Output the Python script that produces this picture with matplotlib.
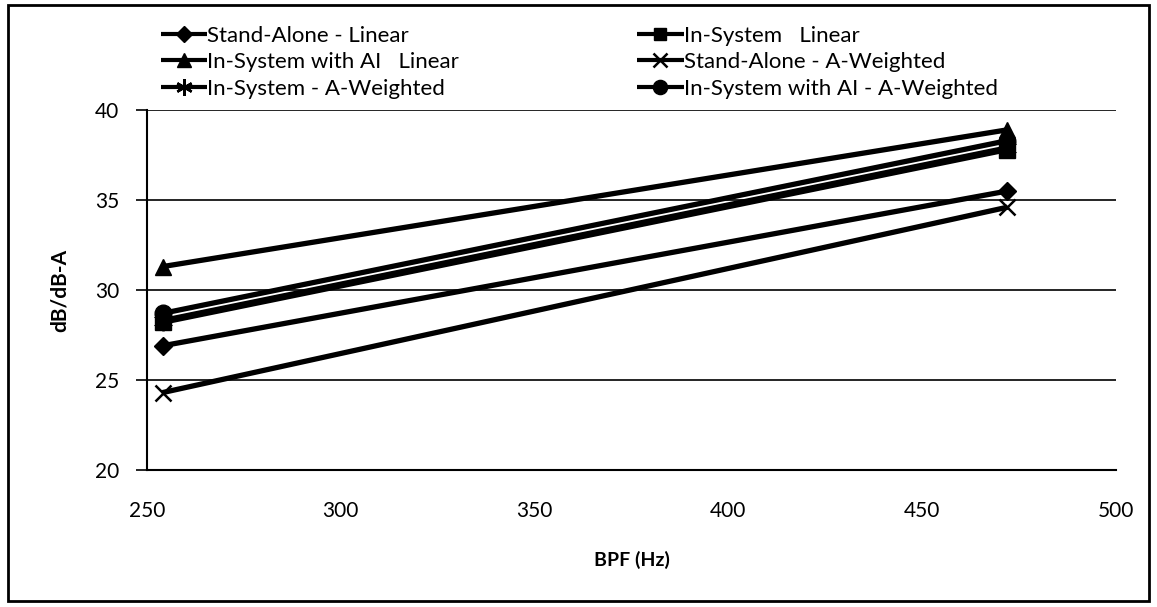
import matplotlib.pyplot as plt
from matplotlib.patches import Rectangle

plt.rcParams['font.family'] = ['Lato', 'DejaVu Sans']

bpf = [254, 472]
series_names = ['Stand-Alone - Linear', 'In-System   Linear', 'In-System with AI   Linear',
                'Stand-Alone - A-Weighted', 'In-System - A-Weighted', 'In-System with AI - A-Weighted']
stand_alone_lin = [26.9, 35.5]
in_system_lin = [28.2, 37.8]
in_system_ai_lin = [31.3, 38.9]
stand_alone_aw = [24.3, 34.6]
in_system_aw = [28.3, 37.9]
in_system_ai_aw = [28.7, 38.3]
series_values = [stand_alone_lin, in_system_lin, in_system_ai_lin,
                 stand_alone_aw, in_system_aw, in_system_ai_aw]
markers = ['D', 's', '^', 'x', (6, 2, 0), 'o']
marker_sizes = [9, 11, 12, 12, 14, 12]

fig = plt.figure(figsize=(11.57, 6.07), dpi=100)
ax = fig.add_axes([147 / 1157, 1 - 470 / 607, (1116 - 147) / 1157, 360 / 607])

handles = []
for vals, name, m, ms in zip(series_values, series_names, markers, marker_sizes):
    h, = ax.plot(bpf, vals, color='black', lw=3.8, marker=m, markersize=ms,
                 markeredgewidth=1.8 if m in ('x', (6, 2, 0)) else 1,
                 markeredgecolor='black', markerfacecolor='black', label=name,
                 solid_capstyle='butt')
    handles.append(h)

ax.set_xlim(250, 500)
ax.set_ylim(20, 40)
ax.set_xticks([250, 300, 350, 400, 450, 500])
ax.set_yticks([20, 25, 30, 35, 40])
ax.yaxis.grid(True, color='black', lw=1.2)
ax.set_axisbelow(True)
for s in ['top', 'right']:
    ax.spines[s].set_visible(False)
ax.spines['left'].set_linewidth(1.5)
ax.spines['bottom'].set_linewidth(1.5)
ax.tick_params(axis='y', length=8, width=1.2, labelsize=15, pad=12)
ax.tick_params(axis='x', length=0, labelsize=15, pad=22)
ax.set_xlabel('BPF (Hz)', fontsize=14, fontweight='bold', labelpad=22)
ax.set_ylabel('dB/dB-A', fontsize=15, fontweight='bold', labelpad=18)

order = [0, 2, 4, 1, 3, 5]
leg = fig.legend([handles[i] for i in order], [series_names[i] for i in order],
                 ncol=2, loc='upper left', bbox_to_anchor=(145 / 1157, 1 - 10 / 607),
                 frameon=False, fontsize=16, handlelength=2.1, handletextpad=0.0,
                 columnspacing=8.0, labelspacing=0.3, borderpad=0.2)
for lh in leg.legend_handles:
    lh.set_markersize(lh.get_markersize() * 0.85)
    lh.set_linewidth(3)

fig.patches.append(Rectangle((8 / 1157, 6 / 607), 1141 / 1157, 596 / 607,
                             transform=fig.transFigure, fill=False,
                             edgecolor='black', lw=2))

fig.savefig('out.png', dpi=100)
